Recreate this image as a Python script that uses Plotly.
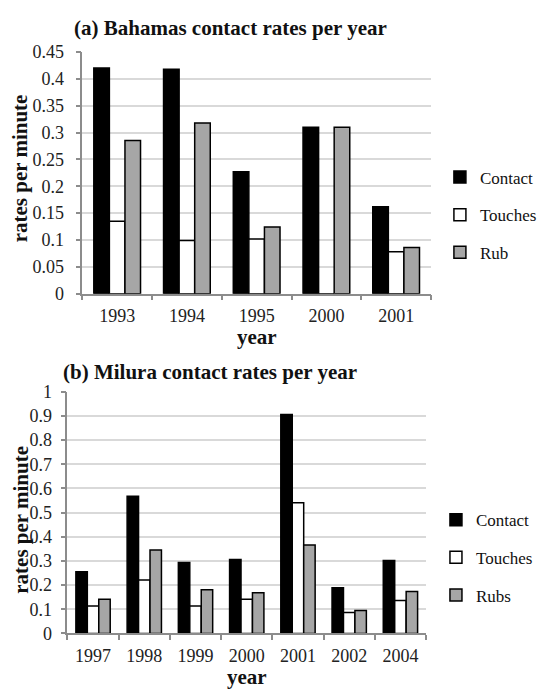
import plotly.graph_objects as go

# ---- data (a) Bahamas ----
years_a = ["1993", "1994", "1995", "2000", "2001"]
contact_a = [0.420, 0.418, 0.227, 0.310, 0.162]
touches_a = [0.135, 0.099, 0.102, 0, 0.078]
rub_a = [0.285, 0.318, 0.124, 0.310, 0.086]

# ---- data (b) Milura ----
years_b = ["1997", "1998", "1999", "2000", "2001", "2002", "2004"]
contact_b = [0.255, 0.568, 0.294, 0.306, 0.906, 0.189, 0.302]
touches_b = [0.114, 0.221, 0.114, 0.141, 0.541, 0.087, 0.136]
rubs_b = [0.141, 0.345, 0.181, 0.168, 0.366, 0.095, 0.174]

# page has an 8px body margin: figure sized to fit inside the 550x699 window
OFF = 8
W, H = 550 - 2 * OFF, 699 - 2 * OFF
FONT = "Liberation Serif"
BLACK = "#000000"
GREY = "#a6a6a6"
WHITE = "#ffffff"


def px(x):
    """page x (pixels) -> paper fraction"""
    return (x - OFF) / W


def py(y):
    """page y (pixels from top) -> paper fraction"""
    return 1 - (y - OFF) / H


fig = go.Figure()

line = dict(color="#000000", width=1.5)
for name, vals, col, grp in [("Contact", contact_a, BLACK, "a1"),
                             ("Touches", touches_a, WHITE, "a2"),
                             ("Rub", rub_a, GREY, "a3")]:
    fig.add_trace(go.Bar(x=years_a, y=vals, name=name, marker=dict(color=col, line=line),
                         xaxis="x", yaxis="y", legend="legend", legendgroup=grp))

for name, vals, col, grp in [("Contact", contact_b, BLACK, "b1"),
                             ("Touches", touches_b, WHITE, "b2"),
                             ("Rubs", rubs_b, GREY, "b3")]:
    fig.add_trace(go.Bar(x=years_b, y=vals, name=name, marker=dict(color=col, line=line),
                         xaxis="x2", yaxis="y2", legend="legend2", legendgroup=grp))

axis_common = dict(showline=True, linecolor="#8c8c8c", linewidth=1.5,
                   ticks="outside", ticklen=5, tickcolor="#8c8c8c", tickwidth=1.5,
                   tickfont=dict(family=FONT, size=18, color="#222222"))

fig.update_layout(
    width=W, height=H,
    margin=dict(l=0, r=0, t=0, b=0),
    paper_bgcolor="white", plot_bgcolor="white",
    barmode="group", bargap=0.33, bargroupgap=0,
    font=dict(family=FONT, color="#111111"),
    xaxis=dict(domain=[px(83), px(435)], type="category", tickson="boundaries",
               anchor="y", showgrid=False, ticklabelstandoff=5, **axis_common),
    yaxis=dict(domain=[py(292), py(43)], range=[0, 0.45], dtick=0.05, anchor="x",
               showgrid=True, gridcolor="#d9d9d9", gridwidth=1.5, zeroline=False,
               ticklabelstandoff=8, **axis_common),
    xaxis2=dict(domain=[px(68), px(430)], type="category", tickson="boundaries",
                anchor="y2", showgrid=False, ticklabelstandoff=5, **axis_common),
    yaxis2=dict(domain=[py(642), py(393)], range=[0, 1], dtick=0.1, anchor="x2",
                showgrid=True, gridcolor="#d9d9d9", gridwidth=1.5, zeroline=False,
                ticklabelstandoff=5, **axis_common),
    legend=dict(x=px(444), y=py(211), xanchor="left", yanchor="middle",
                font=dict(family=FONT, size=17, color="#111111"),
                tracegroupgap=12.5, bgcolor="rgba(0,0,0,0)"),
    legend2=dict(x=px(440), y=py(564), xanchor="left", yanchor="middle",
                 font=dict(family=FONT, size=17, color="#111111"),
                 tracegroupgap=12.5, bgcolor="rgba(0,0,0,0)"),
)

ann = dict(xref="paper", yref="paper", showarrow=False, font=dict(family=FONT, size=21, color="#111111"))
fig.add_annotation(text="<b>(a) Bahamas contact rates per year</b>", x=px(233), y=py(18),
                   xanchor="center", yanchor="middle", **ann)
fig.add_annotation(text="<b>(b) Milura contact rates per year</b>", x=px(212), y=py(373),
                   xanchor="center", yanchor="middle", **ann)
fig.add_annotation(text="<b>year</b>", x=px(259), y=py(337), xanchor="center", yanchor="middle", **ann)
fig.add_annotation(text="<b>year</b>", x=px(249), y=py(687), xanchor="center", yanchor="middle", **ann)
fig.add_annotation(text="<b>rates per minute</b>", x=px(21), y=py(163), textangle=-90,
                   xanchor="center", yanchor="middle", **ann)
fig.add_annotation(text="<b>rates per minute</b>", x=px(21), y=py(525), textangle=-90,
                   xanchor="center", yanchor="middle", **ann)

fig.write_html("out.html")
